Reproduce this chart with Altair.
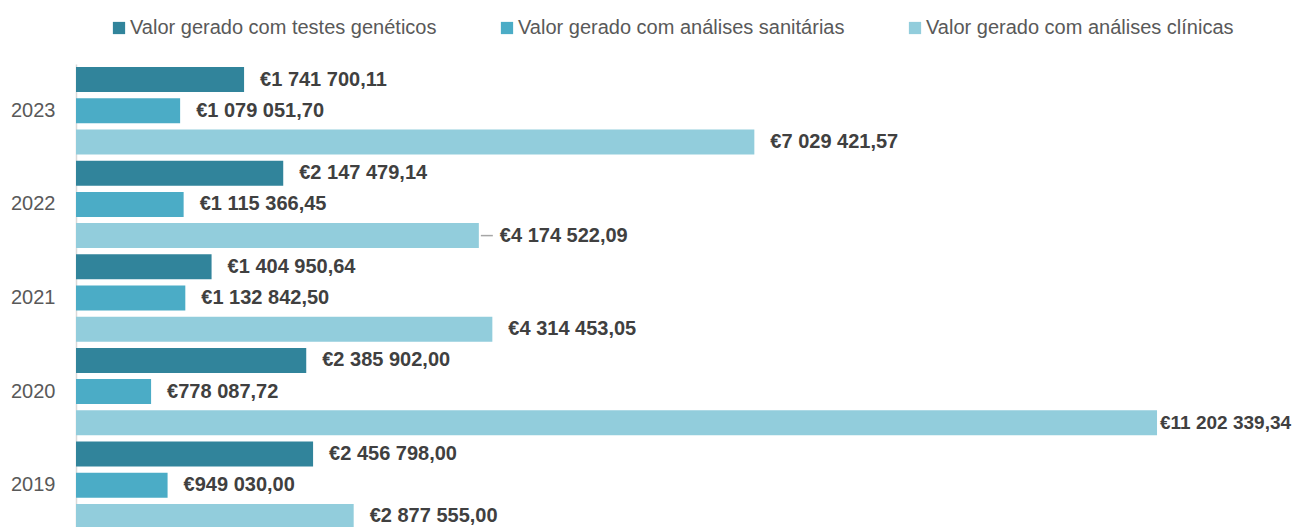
import altair as alt
import pandas as pd

years = ["2023", "2022", "2021", "2020", "2019"]
series = [
    "Valor gerado com testes genéticos",
    "Valor gerado com análises sanitárias",
    "Valor gerado com análises clínicas",
]
genetic = [1741700.11, 2147479.14, 1404950.64, 2385902.00, 2456798.00]
sanitary = [1079051.70, 1115366.45, 1132842.50, 778087.72, 949030.00]
clinical = [7029421.57, 4174522.09, 4314453.05, 11202339.34, 2877555.00]
colors = ["#31849B", "#4BACC6", "#92CDDC"]


def fmt(v):
    s = f"{v:,.2f}"
    intpart, dec = s.split(".")
    return "€" + intpart.replace(",", " ") + "," + dec


rows = []
for i, y in enumerate(years):
    for s, vals in zip(series, [genetic, sanitary, clinical]):
        rows.append({"year": y, "series": s, "value": vals[i], "label": fmt(vals[i])})
df = pd.DataFrame(rows)

FONT = "Liberation Sans, Arial, sans-serif"

y_enc = alt.Y("year:N", sort=years, title=None,
              scale=alt.Scale(paddingInner=0, paddingOuter=0),
              axis=alt.Axis(labelFontSize=20, labelColor="#595959", labelFont=FONT,
                            ticks=False, labelPadding=21, domainColor="#D9D9D9",
                            domainWidth=1.5, labelFontWeight="normal"))
yoff = alt.YOffset("series:N", sort=series,
                   scale=alt.Scale(paddingInner=0.2, paddingOuter=0.1))
x_enc = alt.X("value:Q", scale=alt.Scale(domain=[0, 12000000], nice=False), axis=None)

base = alt.Chart(df)

bars = base.mark_bar().encode(
    x=x_enc, y=y_enc, yOffset=yoff,
    color=alt.Color("series:N", sort=series,
                    scale=alt.Scale(domain=series, range=colors),
                    legend=alt.Legend(title=None, orient="none", direction="horizontal",
                                      legendX=33, legendY=-46, symbolType="square",
                                      symbolSize=150, symbolStrokeWidth=0,
                                      labelFontSize=20, labelColor="#595959",
                                      labelFont=FONT, labelLimit=500, labelOffset=1,
                                      columnPadding=60)),
)

is_leader = (alt.datum.year == "2022") & (alt.datum.series == series[2])
is_max = (alt.datum.year == "2020") & (alt.datum.series == series[2])


def text_layer(filt, dx, size=20):
    return base.transform_filter(filt).mark_text(
        align="left", baseline="middle", dx=dx, fontSize=size, fontWeight="bold",
        color="#404040", font=FONT,
    ).encode(x=x_enc, y=y_enc, yOffset=yoff, text="label:N")


labels = text_layer(~is_leader & ~is_max, 16)
labels2 = text_layer(is_leader, 21)
labels3 = text_layer(is_max, 3, 19)

leader = base.transform_filter(is_leader).mark_rule(
    color="#A6A6A6", strokeWidth=1.5, xOffset=2, x2Offset=14,
).encode(x=x_enc, x2="value:Q", y=y_enc, yOffset=yoff)

chart = alt.layer(bars, leader, labels, labels2, labels3).properties(
    width=1158, height=468,
    autosize=alt.AutoSizeParams(type="none"),
    padding={"left": 68, "top": 56, "right": 58, "bottom": 0},
).configure_view(stroke=None)

chart.save("out.html", embed_options={"renderer": "svg", "actions": False})
